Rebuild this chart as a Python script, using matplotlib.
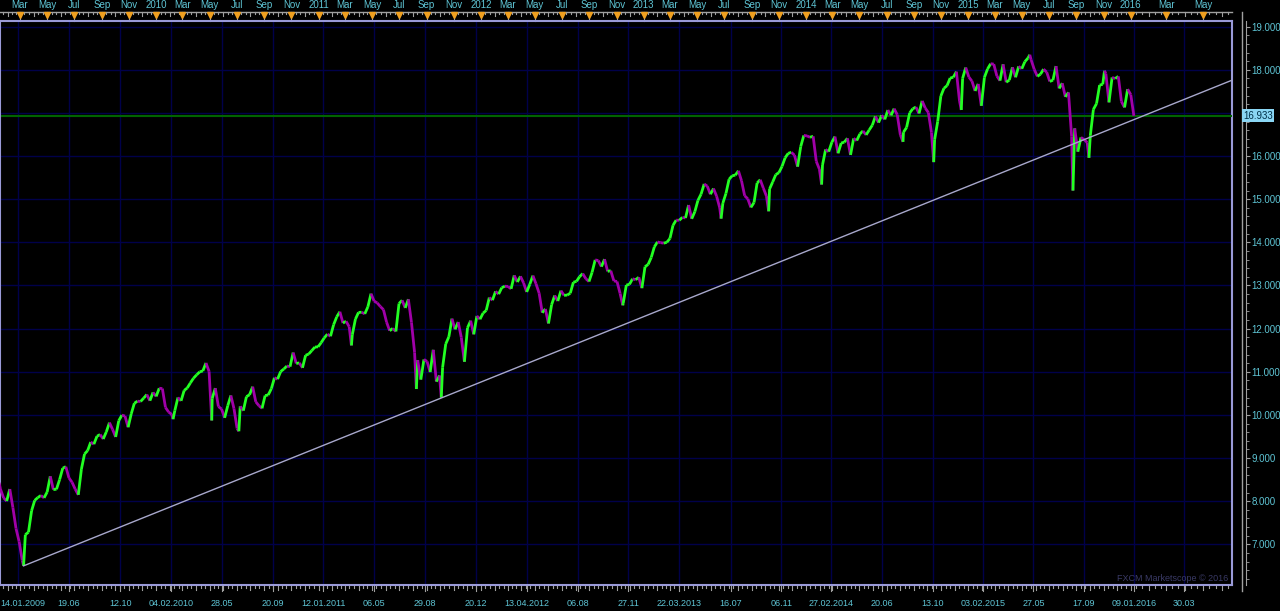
import numpy as np
import pandas as pd
import matplotlib
matplotlib.use('Agg')
import matplotlib.pyplot as plt
import matplotlib.dates as mdates
from matplotlib.collections import LineCollection

# weekly closes (fridays), values in index points
close_2009 = [8599, 8281, 8077, 8001, 8280, 7850, 7366, 7063, 6627, 7224, 7279, 7776,
              8018, 8083, 8131, 8076, 8212, 8575, 8268, 8277, 8500, 8764, 8799, 8539,
              8438, 8280, 8146, 8743, 9093, 9172, 9370, 9321, 9505, 9544, 9441, 9605,
              9820, 9665, 9488, 9865, 9995, 9972, 9713, 10023, 10270, 10318, 10310,
              10389, 10471, 10329, 10520]
close_2010 = [10428, 10618, 10610, 10173, 10067, 10012, 10099, 10403, 10325, 10567,
              10625, 10742, 10851, 10928, 10998, 11019, 11204, 11009, 10380, 10620,
              10193, 10137, 9932, 10212, 10450, 10144, 9686, 10198, 10098, 10424,
              10466, 10654, 10303, 10214, 10151, 10448, 10462, 10608, 10860, 10830,
              11006, 11063, 11133, 11118, 11445, 11193, 11204, 11092, 11382, 11410,
              11492, 11573, 11578]
close_2011 = [11675, 11787, 11871, 11824, 12092, 12273, 12391, 12130, 12170, 12044,
              11858, 12221, 12376, 12380, 12342, 12505, 12811, 12638, 12596, 12512,
              12441, 12151, 11952, 12004, 11934, 12582, 12657, 12480, 12681, 12143,
              11445, 11269, 10818, 11285, 11240, 10992, 11509, 10771, 10913, 11103,
              11644, 11809, 12231, 11983, 12153, 11796, 11231, 12019, 12184, 11867,
              12294, 12218]
close_2012 = [12360, 12422, 12720, 12660, 12862, 12801, 12950, 12983, 12978, 12922,
              13233, 13081, 13212, 13060, 12850, 13029, 13229, 13038, 12821, 12369,
              12455, 12119, 12554, 12767, 12640, 12880, 12772, 12777, 12822, 13076,
              13096, 13207, 13275, 13157, 13091, 13306, 13593, 13579, 13437, 13610,
              13328, 13343, 13107, 13093, 12815, 12588, 13010, 13026, 13155, 13135,
              13190, 12938]
close_2013 = [13435, 13488, 13650, 13896, 14010, 13993, 13982, 14001, 14090, 14397,
              14515, 14512, 14579, 14565, 14865, 14547, 14712, 14974, 15118, 15354,
              15303, 15116, 15248, 15070, 14799, 14910, 15136, 15464, 15544, 15559,
              15659, 15426, 15081, 15010, 14810, 14922, 15377, 15452, 15258, 15073,
              15237, 15400, 15570, 15616, 15762, 15962, 16065, 16087, 16021, 15755,
              16221, 16479]
close_2014 = [16469, 16437, 16459, 15879, 15699, 15794, 16154, 16103, 16322, 16452,
              16065, 16303, 16323, 16413, 16027, 16409, 16361, 16513, 16583, 16491,
              16606, 16717, 16924, 16776, 16947, 16851, 17068, 16944, 17100, 16961,
              16493, 16554, 16663, 17001, 17098, 17137, 16988, 17280, 17113, 17009,
              16544, 16380, 16805, 17391, 17573, 17634, 17810, 17828, 17958, 17280,
              17804, 18053]
close_2015 = [17833, 17738, 17511, 17673, 17165, 17825, 18019, 18141, 18133, 17857,
              17749, 18128, 17713, 17763, 18058, 17827, 18080, 18025, 18191, 18273,
              18232, 18011, 17849, 17899, 18016, 17947, 17731, 17760, 18087, 17569,
              17690, 17373, 17477, 16460, 16643, 16102, 16433, 16385, 16315, 16472,
              17084, 17216, 17647, 17664, 17910, 17245, 17824, 17798, 17848, 17265,
              17128, 17552]
close_2016 = [17425, 16933]
first_week = '2009-01-09'

# intraweek extremes that stick out of the weekly path
spike_dates = ['2009-03-09', '2010-02-08', '2010-05-06', '2010-07-06', '2011-03-16',
               '2011-08-09', '2011-10-04', '2012-11-15', '2013-06-24', '2013-10-09',
               '2014-02-05', '2014-08-07', '2014-10-15', '2014-12-16', '2015-05-19',
               '2015-08-24', '2015-09-29', '2015-11-03']
spike_values = [6500, 9900, 9870, 9620, 11610, 10600, 10400, 12540, 14550, 14720,
                15340, 16330, 15860, 17070, 18350, 15200, 15960, 17980]

trend_dates = ['2009-03-09', '2016-06-17']
trend_values = [6500, 17760]
last_price = 16933

y_ticks = list(range(7000, 19001, 1000))
bottom_dates = ['2009-06-19', '2009-10-12', '2010-02-04', '2010-05-28', '2010-09-20',
                '2011-01-12', '2011-05-06', '2011-08-29', '2011-12-20', '2012-04-13',
                '2012-08-06', '2012-11-27', '2013-03-22', '2013-07-16', '2013-11-06',
                '2014-02-27', '2014-06-20', '2014-10-13', '2015-02-03', '2015-05-27',
                '2015-09-17', '2016-01-09', '2016-03-30']
bottom_labels = ['19.06', '12.10', '04.02.2010', '28.05', '20.09', '12.01.2011', '06.05',
                 '29.08', '20.12', '13.04.2012', '06.08', '27.11', '22.03.2013', '16.07',
                 '06.11', '27.02.2014', '20.06', '13.10', '03.02.2015', '27.05', '17.09',
                 '09.01.2016', '30.03']
first_label = '14.01.2009'
extra_grid = '2009-02-25'
x_start, x_end = '2009-01-15', '2016-06-17'

BG = '#000000'
GRID = '#00004a'
FRAME = '#9a9ad8'
TEXT = '#5ec4d4'
UP = '#22ff22'
DOWN = '#a000a8'
TREND = '#a8a8cc'
RULER = '#a0a0a0'

plt.rcParams['font.family'] = ['Liberation Sans', 'DejaVu Sans']

num = lambda d: mdates.date2num(pd.Timestamp(d))

closes = close_2009 + close_2010 + close_2011 + close_2012 + close_2013 + close_2014 + close_2015 + close_2016
week_x = mdates.date2num(pd.date_range(first_week, periods=len(closes), freq='W-FRI'))
px = np.concatenate([week_x, [num(d) for d in spike_dates]])
py = np.concatenate([closes, spike_values]).astype(float)
order = np.argsort(px, kind='stable')
px, py = px[order], py[order]

# the platform squeezes future dates less than past bars
t0, t1, t2 = num('2000-01-01'), week_x[-1], num('2030-01-01')
stretch = 1.37
def fwd(x):
    return np.interp(x, [t0, t1, t2], [t0, t1, t1 + (t2 - t1) * stretch])
def inv(x):
    return np.interp(x, [t0, t1, t1 + (t2 - t1) * stretch], [t0, t1, t2])

fig = plt.figure(figsize=(12.8, 6.11), dpi=100, facecolor=BG)
H = 611.0
ax = fig.add_axes([0, 1 - 585 / H, 1232 / 1280, (585 - 20.5) / H], facecolor=BG)
ax.set_xscale('function', functions=(fwd, inv))
ax.set_xlim(num(x_start), num(x_end))
ax.set_ylim(6056, 19144)

# grid
for d in bottom_dates + [extra_grid]:
    ax.axvline(num(d), color=GRID, lw=1, zorder=0)
ax.set_yticks(y_ticks)
ax.set_yticklabels(['' if v == 17000 else f'{v:,}'.replace(',', '.') for v in y_ticks])
ax.set_yticks(range(6200, 19144, 200), minor=True)
ax.grid(axis='y', color=GRID, lw=1, zorder=0)
ax.set_xticks([])
ax.set_xticks([], minor=True)
ax.yaxis.tick_right()
ax.tick_params(axis='y', which='major', colors=RULER, labelcolor=TEXT, length=3,
               labelsize=7, pad=1)
ax.tick_params(axis='y', which='minor', colors=RULER, length=2)

for s in ['left', 'top', 'bottom']:
    ax.spines[s].set_color(FRAME)
    ax.spines[s].set_linewidth(1.5)
ax.spines['right'].set_position(('outward', 10))
ax.spines['right'].set_color(RULER)
ax.plot([1, 1], [0, 1], transform=ax.transAxes, color=FRAME, lw=1.5, clip_on=False)
ax.plot([1 + 10 / 1232] * 2, [-0.011, 1.0145], transform=ax.transAxes,
        color=RULER, lw=1, clip_on=False)

# price path
pts = np.column_stack([px, py])
segs = np.stack([pts[:-1], pts[1:]], axis=1)
cols = [UP if b >= a else DOWN for a, b in zip(py[:-1], py[1:])]
ax.add_collection(LineCollection(segs, colors=cols, linewidths=2.0, zorder=3))

# current price and trend line
ax.axhline(last_price, color='#006400', lw=1.5, zorder=2)
ax.plot([num(d) for d in trend_dates], trend_values, color=TREND, lw=1, zorder=4)
ax.text(1 + 11 / 1232, last_price, f'{last_price:,}'.replace(',', '.'),
        transform=ax.get_yaxis_transform(), ha='left', va='center', fontsize=7,
        color='#003048', zorder=10, clip_on=False,
        bbox=dict(boxstyle='square,pad=0.15', fc='#8ad6f4', ec='none'))

# top ruler with month markers
xt = ax.get_xaxis_transform()
ax.plot([num(x_start), num(x_end)], [1.0145, 1.0145], transform=xt, color=RULER,
        lw=1, clip_on=False)
ruler = pd.date_range('2009-01-01', x_end, freq='MS')
for m in ruler:
    for day, h in [(1, 0.006), (11, 0.003), (21, 0.003)]:
        d = num(m.replace(day=day))
        if num(x_start) <= d <= num(x_end):
            ax.plot([d, d], [1.0145, 1.0145 - h], transform=xt, color=RULER, lw=0.8,
                    clip_on=False)
            ax.plot([d, d], [0, -h - 0.002], transform=xt, color=RULER, lw=0.8,
                    clip_on=False)
top_months = pd.date_range('2009-03-01', '2016-05-01', freq='2MS')
for m in top_months:
    d = num(m)
    lab = str(m.year) if m.month == 1 else m.strftime('%b')
    ax.plot([d, d], [1.0097, 1.0], transform=xt, color=RULER, lw=0.8, clip_on=False)
    ax.plot([d], [1.0105], transform=xt, marker='v', ms=5, color='#f0a020', mec='#f0a020',
            clip_on=False)
    ax.text(d, 1.0275, lab, transform=xt, ha='center', va='center', fontsize=7,
            color=TEXT, clip_on=False)

# bottom date labels
for d, lab in zip(bottom_dates, bottom_labels):
    ax.plot([num(d)] * 2, [0, -0.011], transform=xt, color=RULER, lw=0.8, clip_on=False)
    ax.text(num(d), -0.0319, lab, transform=xt, ha='center', va='center', fontsize=6.5,
            color=TEXT, clip_on=False)
ax.text(num(x_start), -0.0319, first_label, transform=xt, ha='left', va='center',
        fontsize=6.5, color=TEXT, clip_on=False)

ax.text(0.997, 0.004, 'FXCM Marketscope © 2016', transform=ax.transAxes, ha='right',
        va='bottom', fontsize=6.5, color='#3a3a66', zorder=5)

fig.savefig('out.png', dpi=100, facecolor=BG)
